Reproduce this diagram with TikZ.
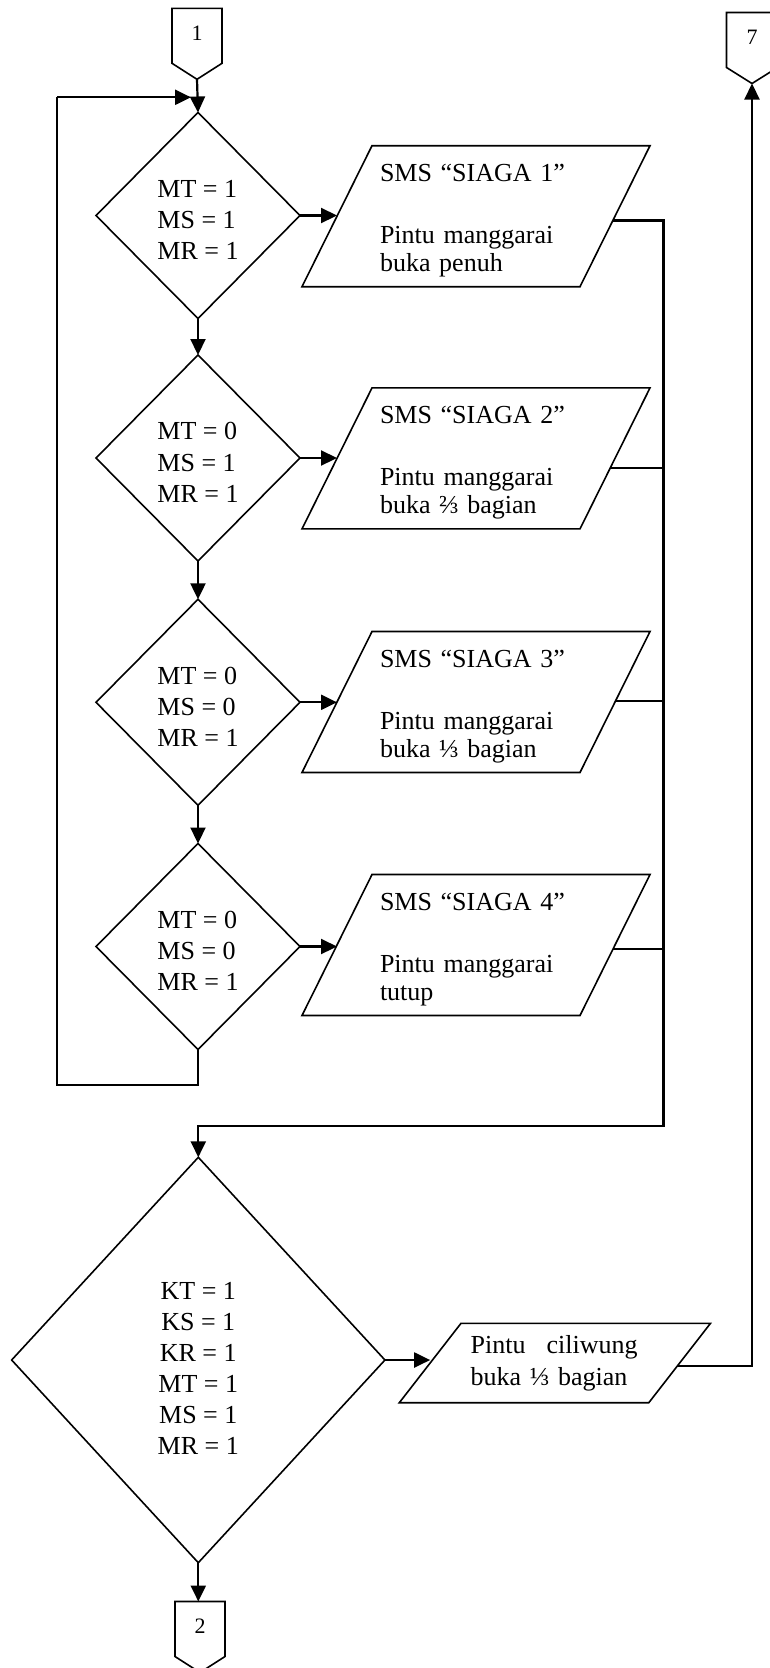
\documentclass[tikz,border=0pt]{standalone}
\usepackage{fontspec}
\setmainfont{Liberation Serif}
\usetikzlibrary{arrows.meta,shapes.geometric,calc}

% tall strut for the first line of a block, pushing the text a little lower
\newcommand\firstline[1]{\rule{0pt}{#1}}

\tikzset{
  shapeline/.style={draw=black, line width=1.6pt, line join=miter},
  decision/.style={shapeline, shape=diamond, inner sep=0pt, outer sep=0pt,
    minimum width=204pt, minimum height=206pt,
    font=\fontsize{26}{31.2}\selectfont, align=left},
  iobody/.style={inner xsep=43pt, inner ysep=0pt, outer sep=0pt, text width=192pt,
    minimum height=141pt, align=left, font=\fontsize{26}{27.6}\selectfont},
  pagebody/.style={minimum width=50pt, minimum height=55pt, inner sep=0pt, outer sep=0pt,
    text depth=6pt, font=\fontsize{22}{26}\selectfont},
  wire/.style={line width=1.8pt},
  flow/.style={line width=2.2pt, -{Triangle[length=16pt,width=15pt]}},
}

% slanted input/output frame around a body node: corners #1-tl, #1-tr, #1-br, #1-bl
\newcommand\ioframe[2]{%
  \coordinate (#1-tl) at ($(#1.north west)+(#2,0)$);
  \coordinate (#1-tr) at ($(#1.north east)+(#2,0)$);
  \coordinate (#1-br) at ($(#1.south east)+(-#2,0)$);
  \coordinate (#1-bl) at ($(#1.south west)+(-#2,0)$);
  \draw[shapeline] (#1-tl) -- (#1-tr) -- (#1-br) -- (#1-bl) -- cycle;}

% off-page connector outline with its point #1-tip below the body
\newcommand\pageframe[1]{%
  \coordinate (#1-tip) at ($(#1.south)+(0,16)$);
  \draw[shapeline] (#1.north west) -- (#1.south west) -- (#1-tip) -- (#1.south east) -- (#1.north east) -- cycle;}

\begin{document}
\begin{tikzpicture}[x=1pt, y=-1pt]
\useasboundingbox (0,0) rectangle (769,1668);

% off-page connectors
\node[pagebody] (c1) at (197,35.8) {1};
\pageframe{c1}
\node[pagebody, minimum width=51pt] (c7) at (752,40) {7};
\pageframe{c7}
\node[pagebody] (c2) at (200,1629) {2};
\pageframe{c2}

% decisions for the Manggarai gate
\node[decision] (d1) at (198,215.5) {\firstline{26pt}MT = 1\\MS = 1\\MR = 1};
\node[decision] (d2) at (198,458)   {\firstline{26pt}MT = 0\\MS = 1\\MR = 1};
\node[decision] (d3) at (198,702.3) {\firstline{26pt}MT = 0\\MS = 0\\MR = 1};
\node[decision] (d4) at (198,946.5) {\firstline{26pt}MT = 0\\MS = 0\\MR = 1};

% outputs
\node[iobody] (p1) at (476,216.2) {\firstline{25.6pt}SMS “SIAGA 1”\\[34.8pt]Pintu manggarai\\buka penuh};
\ioframe{p1}{35}
\node[iobody] (p2) at (476,458.4) {\firstline{25.6pt}SMS “SIAGA 2”\\[34.8pt]Pintu manggarai\\buka ⅔ bagian};
\ioframe{p2}{35}
\node[iobody] (p3) at (476,702) {\firstline{25.6pt}SMS “SIAGA 3”\\[34.8pt]Pintu manggarai\\buka ⅓ bagian};
\ioframe{p3}{35}
\node[iobody] (p4) at (476,945) {\firstline{25.6pt}SMS “SIAGA 4”\\[34.8pt]Pintu manggarai\\tutup};
\ioframe{p4}{35}

% combined decision for the Ciliwung gate
\node[decision, minimum width=373.3pt, minimum height=405.4pt, align=center,
  font=\fontsize{26}{31}\selectfont] (d5) at (198.3,1360)
  {\firstline{34pt}KT = 1\\KS = 1\\KR = 1\\MT = 1\\MS = 1\\MR = 1};
\node[iobody, inner xsep=40.5pt, text width=168.5pt, minimum height=79.4pt,
  font=\fontsize{26}{32.3}\selectfont] (p5) at (554.9,1363)
  {Pintu\hspace{21pt}ciliwung\\buka ⅓ bagian};
\ioframe{p5}{30.85}

% routing points
\coordinate (loopT) at (57,97.3);
\coordinate (loopB) at (57,1085);
\coordinate (busX) at (663.5,0);
\coordinate (busB) at (0,1125.7);
\coordinate (p1o) at ($(p1-tr)!0.53!(p1-br)$);
\coordinate (p2o) at ($(p2-tr)!0.57!(p2-br)$);
\coordinate (p3o) at ($(p3-tr)!0.49!(p3-br)$);
\coordinate (p4o) at ($(p4-tr)!0.53!(p4-br)$);
\coordinate (p5o) at ($(p5-tr)!0.534!(p5-br)$);

% main flow
\draw[flow] (c1-tip) -- (d1.north);
\draw[flow] (d1.south) -- (d2.north);
\draw[flow] (d2.south) -- (d3.north);
\draw[flow] (d3.south) -- (d4.north);
\draw[flow] (d1.east) -- (d1.east -| p1.west);
\draw[flow] (d2.east) -- (d2.east -| p2.west);
\draw[flow] (d3.east) -- (d3.east -| p3.west);
\draw[flow] (d4.east) -- (d4.east -| p4.west);

% loop back to the first decision
\draw[wire] (d4.south) -- (d4.south |- loopB) -- (loopB) -- (loopT);
\draw[flow, shorten >=7pt] (loopT) -- (loopT -| d1.north);

% collecting bus from the outputs
\draw[wire] (p2o) -- (p2o -| busX);
\draw[wire] (p3o) -- (p3o -| busX);
\draw[wire] (p4o) -- (p4o -| busX);
\draw[flow] (p1o) -- (p1o -| busX) -- (busX |- busB) -- (d5.north |- busB) -- (d5.north);

% Ciliwung branch
\draw[flow] (d5.east) -- (d5.east -| p5.west);
\draw[flow] (p5o) -- (p5o -| c7-tip) -- (c7-tip);
\draw[flow] (d5.south) -- (d5.south |- c2.north);
\end{tikzpicture}
\end{document}
